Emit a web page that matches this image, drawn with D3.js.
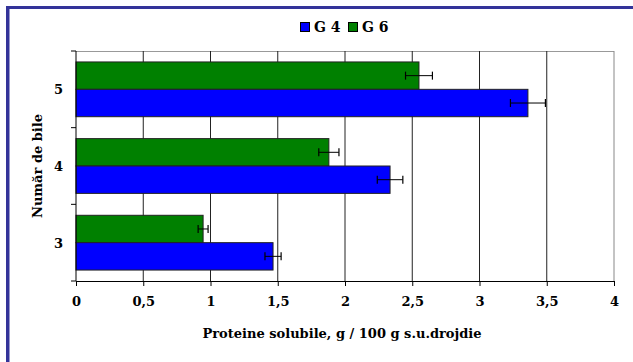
<!DOCTYPE html>
<html>
<head>
<meta charset="utf-8">
<script src="https://cdn.jsdelivr.net/npm/d3@7"></script>
<style>
  html, body { margin: 0; padding: 0; background: #fff; }
  svg { display: block; }
</style>
</head>
<body>
<svg id="chart" width="633" height="362"></svg>
<script>
// Number of balls (categories), top to bottom: 5, 4, 3
const categories = ["5", "4", "3"];
const seriesNames = ["G 6", "G 4"];
const seriesColors = ["#008000", "#0000ff"];
// Soluble protein, g / 100 g dry yeast
const g4Values = [3.36, 2.335, 1.465];
const g6Values = [2.55, 1.88, 0.945];
// Error bar half-widths
const g4Errors = [0.13, 0.095, 0.06];
const g6Errors = [0.10, 0.075, 0.037];
const xTicks = [0, 0.5, 1, 1.5, 2, 2.5, 3, 3.5, 4];

const FONT = "'DejaVu Serif', serif";
const svg = d3.select("#chart");
const W = 633, H = 362;
const m = { left: 76, right: 19, top: 51, bottom: 81 };

// Frame
svg.append("rect")
  .attr("x", 7.5).attr("y", 7.5)
  .attr("width", W + 20).attr("height", H + 20)
  .attr("fill", "none").attr("stroke", "#333399").attr("stroke-width", 3);
svg.append("line").attr("x1", 9.5).attr("x2", 9.5).attr("y1", 9).attr("y2", H)
  .attr("stroke", "#9999cc").attr("stroke-width", 1);

const x = d3.scaleLinear().domain([0, 4]).range([m.left, W - m.right]);
const y = d3.scaleBand().domain(categories).range([m.top, H - m.bottom]);
const inner = d3.scaleBand().domain(seriesNames).range([0, y.bandwidth()]).paddingOuter(0.4).paddingInner(0);

const g = svg.append("g");

// Plot border (top)
g.append("line").attr("x1", m.left).attr("x2", W - m.right).attr("y1", m.top + 0.5).attr("y2", m.top + 0.5)
  .attr("stroke", "#999").attr("stroke-width", 1);

// Vertical gridlines
g.selectAll(".grid").data(xTicks.slice(1)).join("line")
  .attr("x1", d => x(d)).attr("x2", d => x(d))
  .attr("y1", m.top).attr("y2", H - m.bottom)
  .attr("stroke", d => d === 4 ? "#888" : "#222").attr("stroke-width", 1);

// Bars
const data = categories.map((c, i) => ({
  c,
  items: [
    { s: "G 6", v: g6Values[i], e: g6Errors[i], col: seriesColors[0] },
    { s: "G 4", v: g4Values[i], e: g4Errors[i], col: seriesColors[1] }
  ]
}));

const groups = g.selectAll(".grp").data(data).join("g")
  .attr("transform", d => `translate(0,${y(d.c)})`);

groups.selectAll("rect").data(d => d.items).join("rect")
  .attr("x", x(0))
  .attr("y", d => inner(d.s))
  .attr("width", d => x(d.v) - x(0))
  .attr("height", inner.bandwidth())
  .attr("fill", d => d.col)
  .attr("stroke", "#222").attr("stroke-width", 1);

// Error bars
const eb = groups.selectAll(".eb").data(d => d.items).join("g").attr("class", "eb");
eb.append("line")
  .attr("x1", d => x(d.v - d.e)).attr("x2", d => x(d.v + d.e))
  .attr("y1", d => inner(d.s) + inner.bandwidth() / 2).attr("y2", d => inner(d.s) + inner.bandwidth() / 2)
  .attr("stroke", "#000").attr("stroke-width", 1);
[-1, 1].forEach(sg => {
  eb.append("line")
    .attr("x1", d => x(d.v + sg * d.e)).attr("x2", d => x(d.v + sg * d.e))
    .attr("y1", d => inner(d.s) + inner.bandwidth() / 2 - 4)
    .attr("y2", d => inner(d.s) + inner.bandwidth() / 2 + 4)
    .attr("stroke", "#000").attr("stroke-width", 1.2);
});

// X axis
const xAxis = d3.axisBottom(x).tickValues(xTicks).tickSize(5).tickPadding(11)
  .tickFormat(d => String(d).replace(".", ","));
const xg = g.append("g").attr("transform", `translate(0,${H - m.bottom})`).call(xAxis);
xg.attr("font-family", null).attr("font-size", null);
xg.select(".domain").attr("stroke", "#000");
xg.selectAll(".tick line").attr("stroke", "#000");
xg.selectAll("text").style("font-size", "13px");

// Y axis (ticks at band boundaries, labels centered on bands)
g.append("line").attr("x1", m.left).attr("x2", m.left).attr("y1", m.top).attr("y2", H - m.bottom)
  .attr("stroke", "#000");
const bounds = categories.map(c => y(c)).concat([H - m.bottom]);
g.selectAll(".yt").data(bounds).join("line")
  .attr("x1", m.left - 5).attr("x2", m.left)
  .attr("y1", d => d).attr("y2", d => d)
  .attr("stroke", "#000");
g.selectAll(".yl").data(categories).join("text")
  .attr("x", m.left - 13).attr("y", d => y(d) + y.bandwidth() / 2 + 5)
  .attr("text-anchor", "end").style("font-size", "13px").text(d => d);

// Axis titles
svg.append("text").attr("x", 342).attr("y", 338).attr("text-anchor", "middle")
  .style("font-size", "13px").text("Proteine solubile, g / 100 g s.u.drojdie");
svg.append("text").attr("transform", "translate(42,166) rotate(-90)").attr("text-anchor", "middle")
  .style("font-size", "13px").text("Număr de bile");

// Legend
const legend = [
  { name: "G 4", col: seriesColors[1], x: 300 },
  { name: "G 6", col: seriesColors[0], x: 348 }
];
const lg = svg.selectAll(".lg").data(legend).join("g");
lg.append("rect").attr("x", d => d.x + 0.5).attr("y", 22.5).attr("width", 9).attr("height", 9)
  .attr("fill", d => d.col).attr("stroke", "#000");
lg.append("text").attr("x", d => d.x + 14).attr("y", 32).style("font-size", "14px").text(d => d.name);

svg.selectAll("text")
  .style("font-family", FONT)
  .style("font-weight", "bold")
  .style("fill", "#000");
</script>
</body>
</html>
